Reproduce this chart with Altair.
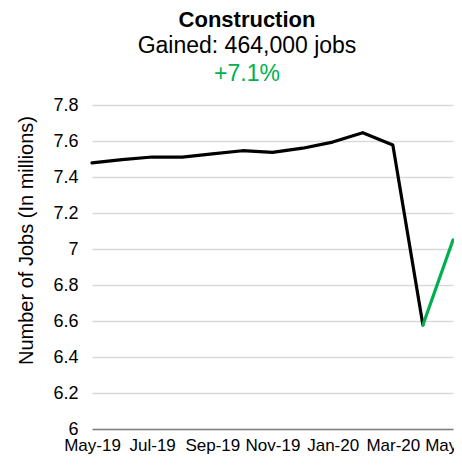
import altair as alt
import pandas as pd

months = ["May-19", "Jun-19", "Jul-19", "Aug-19", "Sep-19", "Oct-19", "Nov-19",
          "Dec-19", "Jan-20", "Feb-20", "Mar-20", "Apr-20", "May-20"]
jobs = [7.478, 7.497, 7.511, 7.510, 7.528, 7.546, 7.537, 7.560, 7.594, 7.646,
        7.578, 6.578, 7.050]
tick_labels = ["May-19", "Jul-19", "Sep-19", "Nov-19", "Jan-20", "Mar-20", "May-20"]
y_ticks = [6.0, 6.2, 6.4, 6.6, 6.8, 7.0, 7.2, 7.4, 7.6, 7.8]
title_text = "Construction"
subtitle_text = "Gained: 464,000 jobs"
change_text = "+7.1%"
y_title = "Number of Jobs (In millions)"

FONT = "Liberation Sans"
GREEN = "#00B050"

rows = []
for i, (m, v) in enumerate(zip(months, jobs)):
    if i <= 11:
        rows.append({"month": m, "jobs": v, "seg": "before"})
    if i >= 11:
        rows.append({"month": m, "jobs": v, "seg": "after"})
df = pd.DataFrame(rows)

line = alt.Chart(df).mark_line(strokeWidth=3.2, strokeJoin="round", strokeCap="round").encode(
    x=alt.X("month:O", sort=months,
            scale=alt.Scale(type="point", padding=0, domain=months),
            axis=alt.Axis(values=tick_labels, labelAngle=0, grid=False, ticks=False,
                          domainColor="#7f7f7f", domainWidth=1.5, labelFontSize=17,
                          labelPadding=8, labelColor="black", labelFont=FONT,
                          labelOverlap=False, title=None)),
    y=alt.Y("jobs:Q", scale=alt.Scale(domain=[6, 7.8], nice=False, zero=False),
            axis=alt.Axis(values=y_ticks, format="~g", grid=True, gridColor="#D9D9D9",
                          gridWidth=1.3, domain=False, ticks=False, labelPadding=14,
                          labelFontSize=18, labelColor="black", labelFont=FONT,
                          title=y_title, titleFontSize=20, titleFontWeight="normal",
                          titleFont=FONT, titleColor="black", titleX=-60, titleY=135,
                          titleAngle=270, titleBaseline="alphabetic", titleAlign="center")),
    color=alt.Color("seg:N", scale=alt.Scale(domain=["before", "after"], range=["black", GREEN]),
                    legend=None),
    detail="seg:N",
)

t1 = alt.Chart(pd.DataFrame({"t": [title_text]})).mark_text(
    font=FONT, fontSize=22, fontWeight="bold", color="black", align="center", baseline="alphabetic"
).encode(text="t:N", x=alt.value(155), y=alt.value(-78))
t2 = alt.Chart(pd.DataFrame({"t": [subtitle_text]})).mark_text(
    font=FONT, fontSize=23, color="black", align="center", baseline="alphabetic"
).encode(text="t:N", x=alt.value(155), y=alt.value(-52))
t3 = alt.Chart(pd.DataFrame({"t": [change_text]})).mark_text(
    font=FONT, fontSize=23, color=GREEN, align="center", baseline="alphabetic"
).encode(text="t:N", x=alt.value(155), y=alt.value(-24))

chart = alt.layer(line, t1, t2, t3).properties(
    width=361, height=324,
    autosize=alt.AutoSizeParams(type="none"),
    padding={"left": 84, "top": 97, "right": 1, "bottom": 28},
    background="white",
).configure_view(stroke=None)

chart.save("out.html", embed_options={"renderer": "svg", "actions": False})
